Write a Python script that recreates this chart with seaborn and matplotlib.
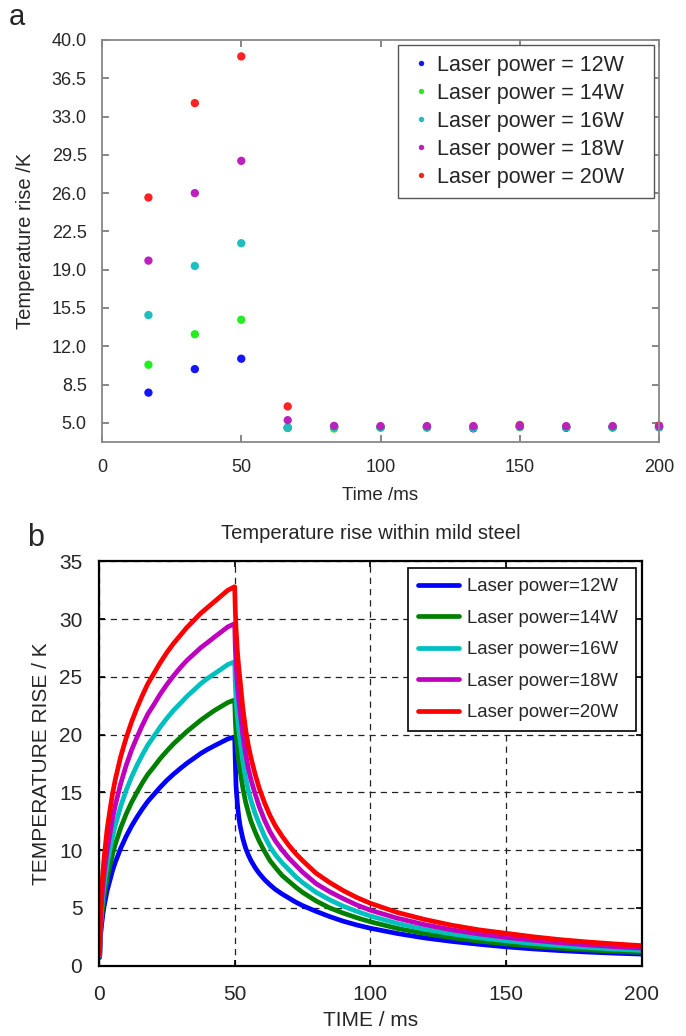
import matplotlib
matplotlib.use("Agg")
import matplotlib.pyplot as plt
import seaborn as sns
import pandas as pd
from matplotlib.ticker import FormatStrFormatter

# ---- panel a: measured temperature rise (scatter) ----
A_TIME = [16.67, 33.33, 50, 66.67, 83.33, 100, 116.67, 133.33, 150, 166.67, 183.33, 200]
A_12W = [7.76, 9.91, 10.86, 4.55, 4.6, 4.6, 4.6, 4.5, 4.65, 4.55, 4.6, 4.6]
A_14W = [10.31, 13.1, 14.42, 4.55, 4.48, 4.55, 4.55, 4.55, 4.6, 4.6, 4.55, 4.6]
A_16W = [14.85, 19.34, 21.42, 4.57, 4.6, 4.6, 4.6, 4.6, 4.65, 4.6, 4.6, 4.6]
A_18W = [19.83, 26.0, 28.95, 5.24, 4.72, 4.7, 4.7, 4.7, 4.7, 4.7, 4.7, 4.7]
A_20W = [25.6, 34.23, 38.5, 6.5, 4.65, 4.6, 4.6, 4.6, 4.8, 4.6, 4.6, 4.75]
A_LABELS = ["Laser power = 12W", "Laser power = 14W", "Laser power = 16W",
            "Laser power = 18W", "Laser power = 20W"]
A_COLORS = ["#1414ff", "#22ee22", "#22bdbd", "#bb22bb", "#ff2222"]
A_YTICKS = [5.0, 8.5, 12.0, 15.5, 19.0, 22.5, 26.0, 29.5, 33.0, 36.5, 40.0]

# ---- panel b: simulated temperature rise (lines), heating then cooling ----
B_TIME = [0.25, 0.5, 1, 1.5, 2, 3, 4, 5, 6, 7, 8, 9, 10, 12, 14, 16, 18, 20, 22.5, 25,
          27.5, 30, 32.5, 35, 37.5, 40, 42.5, 45, 47.5,
          50, 50.25, 50.5, 51, 51.5, 52, 53, 54, 55, 56, 57.5, 59, 61, 63, 65, 67.5,
          70, 72.5, 75, 80, 85, 90, 95, 100, 110, 120, 130, 140, 150, 160, 170, 180,
          190, 200]
B_12W = [0.7, 2.42, 3.63, 4.56, 5.28, 6.49, 7.36, 8.24, 8.95, 9.55, 10.17, 10.67, 11.19,
         12.08, 12.86, 13.57, 14.22, 14.76, 15.43, 16.04, 16.58, 17.07, 17.54, 17.95,
         18.37, 18.72, 19.03, 19.33, 19.63,
         19.8, 17.6, 15.6, 14.0, 12.9, 12.1, 11.0, 10.2, 9.6, 9.1, 8.5, 8.0, 7.45, 7.0,
         6.6, 6.2, 5.85, 5.5, 5.2, 4.7, 4.25, 3.85, 3.52, 3.24, 2.78, 2.4, 2.1, 1.85,
         1.63, 1.45, 1.3, 1.18, 1.08, 1.0]
B_14W = [0.8, 2.84, 4.26, 5.35, 6.19, 7.61, 8.64, 9.66, 10.5, 11.21, 11.93, 12.52, 13.12,
         14.13, 15.01, 15.83, 16.56, 17.14, 17.91, 18.58, 19.21, 19.75, 20.29, 20.77,
         21.25, 21.67, 22.08, 22.43, 22.78,
         23.0, 21.2, 20.1, 18.7, 17.7, 16.9, 15.4, 14.2, 13.3, 12.5, 11.6, 10.8, 9.9, 9.1,
         8.5, 7.8, 7.3, 6.8, 6.35, 5.6, 5.0, 4.55, 4.15, 3.8, 3.22, 2.78, 2.42, 2.12,
         1.88, 1.68, 1.51, 1.37, 1.25, 1.15]
B_16W = [0.85, 3.28, 4.92, 6.19, 7.16, 8.8, 10.0, 11.17, 12.14, 12.96, 13.79, 14.48, 15.17,
         16.33, 17.35, 18.26, 19.1, 19.77, 20.64, 21.41, 22.11, 22.71, 23.33, 23.86,
         24.41, 24.86, 25.26, 25.66, 26.07,
         26.3, 24.3, 23.1, 21.5, 20.4, 19.5, 17.7, 16.3, 15.2, 14.3, 13.2, 12.3, 11.2,
         10.3, 9.6, 8.9, 8.3, 7.7, 7.2, 6.35, 5.7, 5.15, 4.7, 4.3, 3.65, 3.15, 2.75, 2.42,
         2.15, 1.92, 1.73, 1.57, 1.43, 1.32]
B_18W = [0.9, 3.73, 5.6, 7.04, 8.14, 10.0, 11.36, 12.77, 13.87, 14.81, 15.76, 16.54, 17.33,
         18.66, 19.78, 20.82, 21.78, 22.51, 23.48, 24.33, 25.1, 25.81, 26.44, 26.98,
         27.52, 27.97, 28.43, 28.88, 29.33,
         29.6, 27.4, 26.1, 24.3, 23.0, 22.0, 20.0, 18.4, 17.1, 16.1, 14.9, 13.8, 12.6,
         11.6, 10.8, 10.0, 9.3, 8.7, 8.1, 7.1, 6.4, 5.8, 5.25, 4.8, 4.1, 3.55, 3.1, 2.75,
         2.45, 2.2, 1.98, 1.8, 1.65, 1.52]
B_20W = [1.0, 4.4, 6.6, 8.3, 9.6, 11.8, 13.4, 14.9, 16.1, 17.1, 18.1, 18.9, 19.7, 21.1,
         22.3, 23.4, 24.4, 25.2, 26.2, 27.1, 27.9, 28.6, 29.3, 29.9, 30.5, 31.0, 31.5,
         32.0, 32.5,
         32.8, 30.6, 29.2, 27.2, 25.8, 24.7, 22.3, 20.5, 19.1, 18.0, 16.6, 15.4, 14.1,
         13.0, 12.1, 11.2, 10.4, 9.7, 9.1, 8.0, 7.2, 6.5, 5.9, 5.4, 4.6, 4.0, 3.5, 3.1,
         2.8, 2.5, 2.25, 2.05, 1.88, 1.73]
B_LABELS = ["Laser power=12W", "Laser power=14W", "Laser power=16W",
            "Laser power=18W", "Laser power=20W"]
B_COLORS = ["#0000ff", "#008000", "#00bfbf", "#bf00bf", "#ff0000"]


def main():
    sns.set_theme(style="white")
    plt.rcParams["font.family"] = ["Liberation Sans", "DejaVu Sans"]

    fig = plt.figure(figsize=(6.86, 10.36), dpi=100)

    # panel a
    ax1 = fig.add_axes([0.1487, 0.5734, 0.812, 0.388])
    series_a = [A_12W, A_14W, A_16W, A_18W, A_20W]
    rows = []
    # red first, then the others, so magenta ends on top like the original
    for i in [4, 0, 1, 2, 3]:
        for t, v in zip(A_TIME, series_a[i]):
            rows.append({"t": t, "v": v, "series": A_LABELS[i]})
    df_a = pd.DataFrame(rows)
    sns.scatterplot(data=df_a, x="t", y="v", hue="series", hue_order=A_LABELS,
                    palette=A_COLORS, s=36, linewidth=0, ax=ax1, clip_on=False)
    leg = ax1.get_legend()
    handles, labels = leg.legend_handles, [t.get_text() for t in leg.get_texts()]
    ax1.legend(handles, labels, loc="upper left",
               bbox_to_anchor=(0.5314, 0.5, 0.4596, 0.488), mode="expand",
               borderaxespad=0, fontsize=15.5, frameon=True, fancybox=False,
               edgecolor="#555555", framealpha=1, handlelength=1.2, handletextpad=0.15,
               labelspacing=0.33, borderpad=0.45, markerscale=0.65)
    ax1.set_xlim(0, 200)
    ax1.set_ylim(3.25, 40)
    ax1.set_xticks([0, 50, 100, 150, 200])
    ax1.set_yticks(A_YTICKS)
    ax1.yaxis.set_major_formatter(FormatStrFormatter("%.1f"))
    ax1.tick_params(direction="in", length=5, color="#777777", top=True, right=True,
                    labelsize=13, bottom=True, left=True)
    ax1.tick_params(axis="x", pad=12.5)
    ax1.tick_params(axis="y", pad=11)
    for sp in ax1.spines.values():
        sp.set_color("#888888")
        sp.set_linewidth(1.3)
    ax1.set_xlabel("Time /ms", fontsize=13.5, labelpad=8)
    ax1.set_ylabel("Temperature rise /K", fontsize=14.5, labelpad=12)
    fig.text(0.013, 0.984, "a", fontsize=21, va="center", ha="left")

    # panel b
    ax2 = fig.add_axes([0.1443, 0.0679, 0.7911, 0.3903])
    series_b = [B_12W, B_14W, B_16W, B_18W, B_20W]
    rows = []
    for lab, vals in zip(B_LABELS, series_b):
        for t, v in zip(B_TIME, vals):
            rows.append({"t": t, "v": v, "series": lab})
    df_b = pd.DataFrame(rows)
    sns.lineplot(data=df_b, x="t", y="v", hue="series", hue_order=B_LABELS,
                 palette=B_COLORS, linewidth=3.4, estimator=None, ax=ax2)
    ax2.set_xlim(0, 200)
    ax2.set_ylim(0, 35)
    ax2.set_xticks([0, 50, 100, 150, 200])
    ax2.set_yticks(range(0, 36, 5))
    ax2.grid(True, color="#222222", linestyle=(0, (5, 4)), linewidth=0.9)
    ax2.tick_params(direction="in", length=4, color="black", top=True, right=True,
                    labelsize=15, bottom=True, left=True)
    ax2.tick_params(axis="x", pad=14)
    ax2.tick_params(axis="y", pad=12)
    for sp in ax2.spines.values():
        sp.set_color("black")
        sp.set_linewidth(1.6)
    ax2.legend(loc="upper left", bbox_to_anchor=(0.5688, 0.5, 0.4207, 0.484),
               mode="expand", borderaxespad=0,
               fontsize=13.4, frameon=True, fancybox=False, edgecolor="black",
               framealpha=1, handlelength=2.2, handletextpad=0.45, labelspacing=0.78,
               borderpad=0.55)
    ax2.get_legend().get_frame().set_linewidth(1.2)
    ax2.set_xlabel("TIME / ms", fontsize=15, labelpad=5)
    ax2.set_ylabel("TEMPERATURE RISE / K", fontsize=15, labelpad=6)
    ax2.set_title("Temperature rise within mild steel", fontsize=14.5, pad=16)
    fig.text(0.039, 0.481, "b", fontsize=22, va="center", ha="left")

    fig.savefig("out.png", dpi=100)
    plt.close(fig)


if __name__ == "__main__":
    main()
